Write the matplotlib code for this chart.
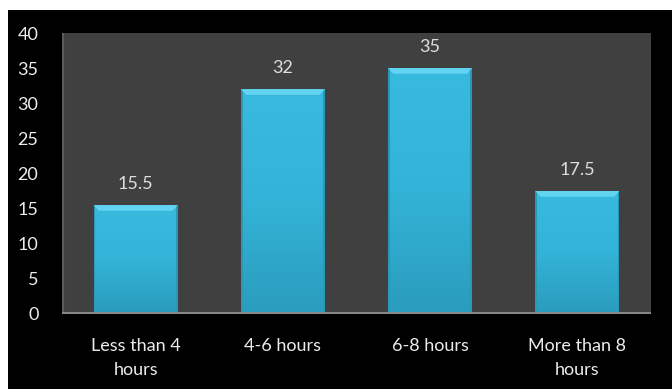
import matplotlib
matplotlib.use("Agg")
import matplotlib.pyplot as plt
import numpy as np
from matplotlib.patches import Rectangle, Polygon
from matplotlib.colors import LinearSegmentedColormap

categories = ["Less than 4\nhours", "4-6 hours", "6-8 hours", "More than 8\nhours"]
values = [15.5, 32, 35, 17.5]
value_labels = ["15.5", "32", "35", "17.5"]
y_ticks = [0, 5, 10, 15, 20, 25, 30, 35, 40]

W, H = 672, 389
fig = plt.figure(figsize=(W / 100, H / 100), dpi=100, facecolor="white")

# black slide background with a thin white margin at top/left
bg = fig.add_axes([8 / W, 0, 1 - 8 / W, (H - 10) / H])
bg.set_facecolor("black")
bg.set_xticks([]); bg.set_yticks([])
for s in bg.spines.values():
    s.set_visible(False)
bg.set_zorder(0)

ax = fig.add_axes([62 / W, (H - 314) / H, 589 / W, (314 - 33) / H])
ax.set_zorder(1)
ax.set_facecolor("#404040")
ax.set_xlim(-0.5, len(categories) - 0.5)
ax.set_ylim(0, 40)
for s in ax.spines.values():
    s.set_visible(False)

font = "Lato"
tick_color = "#ececec"

# wall edge and floor
ax.axvline(-0.5, color="#5a5a5a", lw=3, zorder=2)
ax.axhline(0, color="#8a8a8a", lw=3.5, zorder=5)

cmap = LinearSegmentedColormap.from_list("bar", ["#2a9cbd", "#33b3d7", "#38bade"])
grad = np.linspace(0, 1, 256).reshape(-1, 1)
width = 0.57
bevel_h = 0.8
bevel_d = 0.035
for i, v in enumerate(values):
    x0, x1 = i - width / 2, i + width / 2
    im = ax.imshow(grad, cmap=cmap, extent=(x0, x1, 0, v), origin="lower",
                   aspect="auto", zorder=3, interpolation="bicubic")
    rect = Rectangle((x0, 0), width, v, transform=ax.transData, fill=False, lw=0)
    ax.add_patch(rect)
    im.set_clip_path(rect)
    # side shading
    ax.add_patch(Rectangle((x0, 0), 0.012, v, color="#2a98b8", lw=0, zorder=4))
    ax.add_patch(Rectangle((x1 - 0.012, 0), 0.012, v, color="#2a98b8", lw=0, zorder=4))
    # bevelled top
    ax.add_patch(Polygon([(x0, v), (x1, v), (x1 - bevel_d, v - bevel_h), (x0 + bevel_d, v - bevel_h)],
                         closed=True, color="#62d4f2", lw=0, zorder=4))
    ax.text(i, v + 1.9, value_labels[i], ha="center", va="bottom", color="#dedede",
            fontsize=13, family=font)

ax.set_xticks(range(len(categories)))
ax.set_xticklabels(categories, color=tick_color, fontsize=13, family=font, linespacing=1.65)
ax.set_yticks(y_ticks)
ax.set_yticklabels([str(t) for t in y_ticks], color=tick_color, fontsize=13, family=font)
ax.tick_params(length=0)
ax.tick_params(axis="x", pad=17)
ax.tick_params(axis="y", pad=17)

fig.savefig("out.png", dpi=100, facecolor=fig.get_facecolor())
